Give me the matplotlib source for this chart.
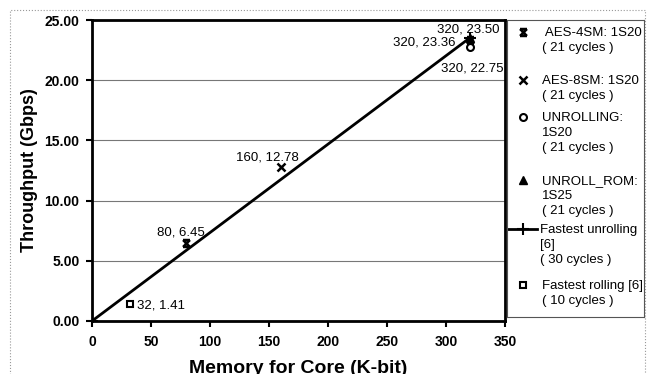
import matplotlib
matplotlib.use('Agg')
import matplotlib.pyplot as plt
from matplotlib.path import Path
from matplotlib.patches import Rectangle

# data
aes4_x = [80, 320]
aes4_y = [6.45, 23.36]
aes8_x = [160]
aes8_y = [12.78]
unroll_x = [320]
unroll_y = [22.75]
unrollrom_x = [320]
unrollrom_y = [23.50]
fast_unroll_x = [0, 320]
fast_unroll_y = [0.0, 23.50]
fast_roll_x = [32]
fast_roll_y = [1.41]

legend_labels = [
    ' AES-4SM: 1S20\n( 21 cycles )',
    'AES-8SM: 1S20\n( 21 cycles )',
    'UNROLLING:\n1S20\n( 21 cycles )',
    'UNROLL_ROM:\n1S25\n( 21 cycles )',
    'Fastest unrolling\n[6]\n( 30 cycles )',
    'Fastest rolling [6]\n( 10 cycles )',
]

plt.rcParams['font.family'] = ['Liberation Sans', 'DejaVu Sans']

# hourglass-like cross marker (Excel style)
hg = Path([(-1, 1), (1, -1), (-1, -1), (1, 1), (-1, 1), (1, 1), (-1, -1), (1, -1)],
          [Path.MOVETO, Path.LINETO, Path.MOVETO, Path.LINETO,
           Path.MOVETO, Path.LINETO, Path.MOVETO, Path.LINETO])

W, H = 649, 374
fig = plt.figure(figsize=(W / 100, H / 100), dpi=100)

# dotted outer frame
fig.patches.append(Rectangle((10 / W, -0.05), 635 / W, 1.05 - 10 / H,
                             transform=fig.transFigure, fill=False,
                             edgecolor='#999999', linestyle=':', linewidth=0.8))

ax = fig.add_axes([92 / W, 1 - 321 / H, 413 / W, 301 / H])

ax.plot(fast_unroll_x, fast_unroll_y, color='black', linewidth=2,
        marker='+', markersize=8, markeredgewidth=1.5)
ax.plot(aes4_x, aes4_y, linestyle='none', marker=hg, markersize=5,
        markeredgewidth=1.8, color='black')
ax.plot(aes8_x, aes8_y, linestyle='none', marker='x', markersize=6,
        markeredgewidth=1.8, color='black')
ax.plot(unroll_x, unroll_y, linestyle='none', marker='o', markersize=5,
        markerfacecolor='white', markeredgewidth=1.5, color='black')
ax.plot(unrollrom_x, unrollrom_y, linestyle='none', marker='^', markersize=6,
        color='black')
ax.plot(fast_roll_x, fast_roll_y, linestyle='none', marker='s', markersize=5,
        markerfacecolor='white', markeredgewidth=1.5, color='black')

# data labels
lbl = [(aes4_x[0], aes4_y[0], (-6, 11)),
       (aes8_x[0], aes8_y[0], (-13, 10)),
       (unrollrom_x[0], unrollrom_y[0], (-1, 9)),
       (aes4_x[1], aes4_y[1], (-45, -3)),
       (unroll_x[0], unroll_y[0], (3, -21)),
       (fast_roll_x[0], fast_roll_y[0], (31, -1))]
for x, y, off in lbl:
    ax.annotate(f'{x}, {y:.2f}', (x, y), xytext=off, textcoords='offset pixels',
                ha='center', va='center', fontsize=9.5)

ax.set_xlim(0, 350)
ax.set_ylim(0, 25)
ax.set_xticks(range(0, 351, 50))
ax.set_yticks([0, 5, 10, 15, 20, 25])
ax.set_yticklabels([f'{v:.2f}' for v in [0, 5, 10, 15, 20, 25]])
ax.grid(axis='y', color='#777777', linewidth=0.8)
ax.set_axisbelow(True)
for s in ax.spines.values():
    s.set_linewidth(2)
ax.tick_params(direction='out', length=4, width=1.5, labelsize=10)
ax.tick_params(axis='x', pad=6)
ax.tick_params(axis='y', pad=5)
for t in ax.get_xticklabels() + ax.get_yticklabels():
    t.set_fontweight('bold')

ax.set_xlabel('Memory for Core (K-bit)', fontsize=14, fontweight='bold', labelpad=8)
ax.set_ylabel('Throughput (Gbps)', fontsize=13, fontweight='bold', labelpad=5)

# legend box drawn by hand (pixel layout)
lax = fig.add_axes([507 / W, 1 - 317 / H, 137 / W, 297 / H])
lax.set_xlim(0, 137)
lax.set_ylim(297, 0)
lax.set_xticks([])
lax.set_yticks([])
for s in lax.spines.values():
    s.set_color('#555555')
    s.set_linewidth(0.8)

entry_y = [12, 60, 97, 160, 209, 265]
styles = [dict(marker=hg, markersize=5, markeredgewidth=1.8),
          dict(marker='x', markersize=6, markeredgewidth=1.8),
          dict(marker='o', markersize=5, markerfacecolor='white', markeredgewidth=1.5),
          dict(marker='^', markersize=6),
          None,
          dict(marker='s', markersize=5, markerfacecolor='white', markeredgewidth=1.5)]
for yy, st, text in zip(entry_y, styles, legend_labels):
    if st is None:
        lax.plot([1, 30], [yy, yy], color='black', linewidth=2)
        lax.plot([15.5], [yy], color='black', marker='+', markersize=8,
                 markeredgewidth=1.5)
        tx = 33
    else:
        lax.plot([16], [yy], color='black', linestyle='none', **st)
        tx = 35
    lax.text(tx, yy - 5, text, ha='left', va='top', fontsize=9.5,
             linespacing=1.35)

fig.savefig('out.png', dpi=100)
